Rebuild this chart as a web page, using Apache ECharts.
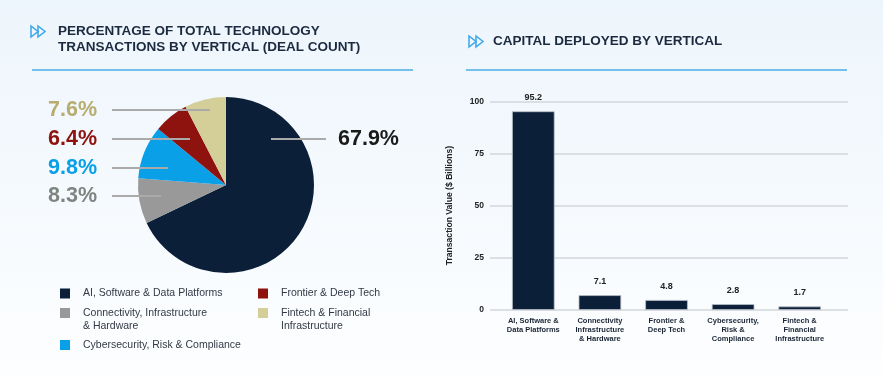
<!DOCTYPE html>
<html><head><meta charset="utf-8">
<script src="https://cdn.jsdelivr.net/npm/echarts@6/dist/echarts.min.js"></script>
<style>html,body{margin:0;padding:0;background:#fff}#c{width:883px;height:377px}</style>
</head><body><div id="c"></div>
<script>
// ---- data ----
const pieCategories = ['AI, Software & Data Platforms','Connectivity, Infrastructure & Hardware','Cybersecurity, Risk & Compliance','Frontier & Deep Tech','Fintech & Financial Infrastructure'];
const pieValues = [67.9, 8.3, 9.8, 6.4, 7.6];
const barCategories = ['AI, Software &\nData Platforms','Connectivity\nInfrastructure\n& Hardware','Frontier &\nDeep Tech','Cybersecurity,\nRisk &\nCompliance','Fintech &\nFinancial\nInfrastructure'];
const barValues = [95.2, 7.1, 4.8, 2.8, 1.7];
const yMin = 0, yMax = 100, yStep = 25;

// ---- styles / layout ----
const FONT = "'Liberation Sans', Arial, sans-serif";
const pieColors = ['#0b1f38','#999999','#0aa0e8','#8e130e','#d4cf98'];
const pieLabelColors = ['#1a1a1a','#7c8681','#0aa0e8','#8e130e','#b8ad70'];
const legendBreaks = {
  'Connectivity, Infrastructure & Hardware': 'Connectivity, Infrastructure\n& Hardware',
  'Fintech & Financial Infrastructure': 'Fintech & Financial\nInfrastructure'
};
const pieCx = 226, pieCy = 185, pieR = 88;
const labelDy = [-46, 11, -17, -46, -75];
const lineInner = [45, -65, -58, -36, -16];

const chart = echarts.init(document.getElementById('c'), null, {renderer:'canvas'});

// square marker aligned to the first text line of a two-line legend entry
const TOP_SQUARE = 'path://M0,0L10,0L10,10L0,10Z M0,23';

function legendAt(name, left, top) {
  const twoLine = !!legendBreaks[name];
  return {
    data: [name], orient: 'vertical', left: left, top: top, padding: 0,
    itemWidth: 10, itemHeight: twoLine ? 23 : 10, icon: twoLine ? TOP_SQUARE : 'rect', selectedMode: false,
    formatter: n => legendBreaks[n] || n,
    textStyle: {fontFamily: FONT, fontSize: 10.5, color: '#333a46', lineHeight: 13, padding: [0,0,0,8]}
  };
}

const option = {
  animation: false,
  backgroundColor: {type:'linear', x:0, y:0, x2:0, y2:1, colorStops:[{offset:0,color:'#edf5fc'},{offset:1,color:'#fdfeff'}]},
  textStyle: {fontFamily: FONT},
  title: [
    {text: 'PERCENTAGE OF TOTAL TECHNOLOGY\nTRANSACTIONS BY VERTICAL (DEAL COUNT)', left: 58, top: 23, padding: 0,
     textStyle: {fontFamily: FONT, fontSize: 13.5, fontWeight: 'bold', color: '#1b2a3f', lineHeight: 16}},
    {text: 'CAPITAL DEPLOYED BY VERTICAL', left: 493, top: 33.5, padding: 0,
     textStyle: {fontFamily: FONT, fontSize: 13.5, fontWeight: 'bold', color: '#1b2a3f', lineHeight: 16}}
  ],
  graphic: [
    {type:'polygon', shape:{points:[[31,26],[31,37],[38,31.5]]}, style:{fill:'none', stroke:'#3aa6ea', lineWidth:1.5}},
    {type:'polygon', shape:{points:[[38,26],[38,37],[45,31.5]]}, style:{fill:'none', stroke:'#3aa6ea', lineWidth:1.5}},
    {type:'polygon', shape:{points:[[469,36],[469,47],[476,41.5]]}, style:{fill:'none', stroke:'#3aa6ea', lineWidth:1.5}},
    {type:'polygon', shape:{points:[[476,36],[476,47],[483,41.5]]}, style:{fill:'none', stroke:'#3aa6ea', lineWidth:1.5}},
    {type:'rect', shape:{x:32, y:69, width:381, height:2}, style:{fill:'#74c0ec'}},
    {type:'rect', shape:{x:466, y:69, width:381, height:2}, style:{fill:'#74c0ec'}}
  ],
  legend: [
    legendAt(pieCategories[0], 60, 287),
    legendAt(pieCategories[1], 60, 306.5),
    legendAt(pieCategories[2], 60, 338.5),
    legendAt(pieCategories[3], 258, 287),
    legendAt(pieCategories[4], 258, 306.5)
  ],
  grid: [
    {left: 500, right: 50, top: 101.3, bottom: 67},
    {left: 490, right: 35, top: 101.3, bottom: 67}
  ],
  xAxis: [
    {type:'category', gridIndex:0, data: barCategories,
     axisLine:{show:false}, axisTick:{show:false},
     axisLabel:{interval:0, fontFamily:FONT, fontSize:7.5, fontWeight:'bold', lineHeight:9, color:'#1b2535', margin:6}},
    {type:'category', gridIndex:1, data: barCategories, show:false}
  ],
  yAxis: [
    {type:'value', gridIndex:0, min:yMin, max:yMax, interval:yStep, show:false, splitLine:{show:false}},
    {type:'value', gridIndex:1, min:yMin, max:yMax, interval:yStep,
     name:'Transaction Value ($ Billions)', nameLocation:'middle', nameGap:36,
     nameTextStyle:{fontFamily:FONT, fontSize:8.6, fontWeight:'bold', color:'#222'},
     axisLine:{show:false}, axisTick:{show:false},
     axisLabel:{fontFamily:FONT, fontSize:8.5, fontWeight:'bold', color:'#222', margin:6},
     splitLine:{show:true, lineStyle:{color:'#d3d6da', width:1.5}}}
  ],
  series: [
    {type:'pie', z:2, center:[pieCx, pieCy], radius:pieR, startAngle:90, clockwise:true,
     avoidLabelOverlap:false, silent:true,
     data: pieCategories.map((n,i)=>({name:n, value:pieValues[i], itemStyle:{color:pieColors[i]}})),
     itemStyle:{borderWidth:0},
     label:{show:false}, labelLine:{show:false}
    },
    {type:'pie', z:5, center:[pieCx, pieCy], radius:pieR, startAngle:90, clockwise:true,
     avoidLabelOverlap:false, silent:true, legendHoverLink:false,
     data: pieCategories.map((n,i)=>({name:n, value:pieValues[i], itemStyle:{color:'rgba(0,0,0,0)'},
        label:{color:pieLabelColors[i]}})),
     itemStyle:{borderWidth:0},
     label:{show:true, position:'outside', formatter:'{c}%', fontFamily:FONT, fontSize:21.5, fontWeight:'bold'},
     labelLine:{show:true, lineStyle:{color:'#aaaaaa', width:2}},
     labelLayout: function(p){
       const i = p.dataIndex;
       const y = pieCy + labelDy[i];
       if (lineInner[i] > 0) {
         return {x: pieCx + 112, y: y, align:'left', verticalAlign:'middle',
           labelLinePoints:[[pieCx+lineInner[i], y],[pieCx+100, y],[pieCx+100, y]]};
       }
       return {x: pieCx - 129, y: y, align:'right', verticalAlign:'middle',
         labelLinePoints:[[pieCx-114, y],[pieCx+lineInner[i], y],[pieCx+lineInner[i], y]]};
     }
    },
    {type:'bar', xAxisIndex:0, yAxisIndex:0, data: barValues, barWidth:'64%', silent:true,
     itemStyle:{color:'#0b1f38', borderColor:'#b9c0c8', borderWidth:0.8},
     label:{show:true, position:'top', distance:9, fontFamily:FONT, fontSize:9, fontWeight:'bold', color:'#222'}}
  ]
};
chart.setOption(option);
</script>
</body></html>
